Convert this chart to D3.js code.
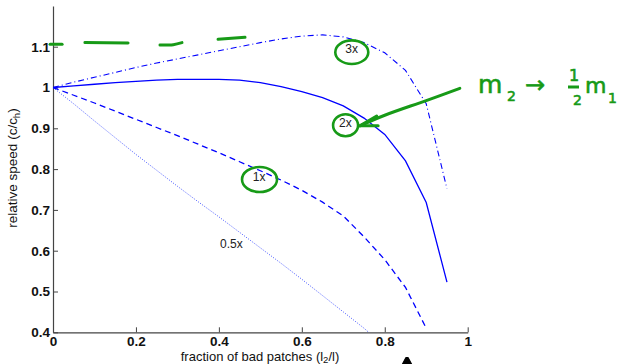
<!DOCTYPE html>
<html><head><meta charset="utf-8">
<script src="https://cdn.jsdelivr.net/npm/d3@7"></script>
<style>
html,body{margin:0;padding:0;background:#fff;}
svg{display:block;}
</style></head>
<body>
<svg id="chart" width="617" height="364"></svg>
<script>
// ---- data ----
const xs = [0,0.05,0.1,0.15,0.2,0.25,0.3,0.35,0.4,0.45,0.5,0.55,0.6,0.65,0.7,0.75,0.8,0.85,0.9,0.95];
const half  = [1,0.960,0.918,0.877,0.836,0.797,0.758,0.720,0.683,0.645,0.607,0.569,0.530,0.490,0.450,0.410,0.365];
const one   = [1,0.981,0.962,0.942,0.922,0.902,0.882,0.861,0.840,0.818,0.796,0.773,0.748,0.719,0.685,0.634,0.578,0.510,0.410];
const two   = [1,1.004,1.008,1.012,1.015,1.018,1.020,1.020,1.020,1.018,1.012,1.002,0.990,0.975,0.955,0.925,0.885,0.820,0.718,0.523];
const three = [1,1.013,1.025,1.037,1.049,1.060,1.070,1.080,1.090,1.100,1.110,1.119,1.126,1.129,1.124,1.110,1.085,1.042,0.960,0.752];
const xTicks = [0,0.2,0.4,0.6,0.8,1];
const xTickLabels = ["0","0.2","0.4","0.6","0.8","1"];
const yTicks = [0.4,0.5,0.6,0.7,0.8,0.9,1,1.1];
const yTickLabels = ["0.4","0.5","0.6","0.7","0.8","0.9","1","1.1"];
const curveLabels = [
  {t:"0.5x", x:0.43, y:0.607},
  {t:"1x",  x:0.497, y:0.770},
  {t:"2x",  x:0.705, y:0.903},
  {t:"3x",  x:0.720, y:1.084}
];
// hand-drawn annotations (data units)
const circles = [
  {x:0.7205, y:1.0865, rx:16.5, ry:11.8},
  {x:0.7055, y:0.9075, rx:12.5, ry:11},
  {x:0.498,  y:0.7745, rx:17.5, ry:12.5}
];
const greenDashes = [
  [[-0.007,1.106],[0.022,1.106]],
  [[0.077,1.110],[0.181,1.109]],
  [[0.258,1.104],[0.290,1.105],[0.311,1.110]],
  [[0.398,1.118],[0.463,1.123]]
];
const arrowShaft = [[0.981,0.998],[0.90,0.968],[0.80,0.932],[0.740,0.906]];
const arrowHead  = [[0.7806,0.930],[0.740,0.906],[0.784,0.906]];

// ---- layout ----
const svg = d3.select("#chart");
const x = d3.scaleLinear().domain([0,1]).range([53,467.7]);
const y = d3.scaleLinear().domain([0.4,1.2]).range([332.3,5.9]);
const font = "'Liberation Sans', Arial, Helvetica, sans-serif";
const blue = "#0000ff", green = "#179a17";

svg.append("defs").append("clipPath").attr("id","clip")
  .append("rect").attr("x",x(0)).attr("y",y(1.2)).attr("width",x(1)-x(0)+40).attr("height",y(0.4)-y(1.2));

// axes
const xAxis = d3.axisBottom(x).tickValues(xTicks).tickFormat((d,i)=>xTickLabels[i])
  .tickSizeInner(-5).tickSizeOuter(0).tickPadding(4);
const yAxis = d3.axisLeft(y).tickValues(yTicks).tickFormat((d,i)=>yTickLabels[i])
  .tickSizeInner(-5).tickSizeOuter(0).tickPadding(3);
const gx = svg.append("g").attr("transform",`translate(0,${y(0.4)})`).call(xAxis);
const gy = svg.append("g").attr("transform",`translate(${x(0)},0)`).call(yAxis);
[gx,gy].forEach(g=>{
  g.selectAll("path.domain").attr("stroke","#444").attr("stroke-width",1.2);
  g.selectAll(".tick line").attr("stroke","#444").attr("stroke-width",1);
  g.selectAll(".tick text").attr("fill","#111").attr("font-family",font)
    .attr("font-weight","bold").attr("font-size",13.5);
});

// axis labels
svg.append("text").attr("x",260).attr("y",360.5).attr("text-anchor","middle")
  .attr("font-family",font).attr("font-size",13).attr("fill","#111")
  .html('fraction of bad patches (l<tspan font-size="9.5" dy="2.5">2</tspan><tspan dy="-2.5">/l)</tspan>');
svg.append("text").attr("transform","translate(17,168) rotate(-90)").attr("text-anchor","middle")
  .attr("font-family",font).attr("font-size",13.5).attr("fill","#111")
  .html('relative speed (c/c<tspan font-size="9.5" dy="3">h</tspan><tspan dy="-3">)</tspan>');

// curves
const line = d3.line().x((d,i)=>x(xs[i])).y(d=>y(d));
const plot = svg.append("g").attr("clip-path","url(#clip)");
plot.append("path").attr("d",line(half)).attr("fill","none").attr("stroke","#4455ff")
  .attr("stroke-width",1).attr("stroke-dasharray","1 1.6");
plot.append("path").attr("d",line(one)).attr("fill","none").attr("stroke",blue)
  .attr("stroke-width",1.3).attr("stroke-dasharray","6 4");
plot.append("path").attr("d",line(two)).attr("fill","none").attr("stroke",blue)
  .attr("stroke-width",1.3);
plot.append("path").attr("d",line(three)).attr("fill","none").attr("stroke",blue)
  .attr("stroke-width",1.1).attr("stroke-dasharray","6 3 1 3");

// curve labels
svg.selectAll("text.cl").data(curveLabels).join("text").attr("class","cl")
  .attr("x",d=>x(d.x)).attr("y",d=>y(d.y)).attr("text-anchor","middle")
  .attr("font-family",font).attr("font-size",12).attr("fill","#222").text(d=>d.t);

// hand-drawn green annotations
const ann = svg.append("g").attr("fill","none").attr("stroke",green).attr("stroke-linecap","round")
  .attr("stroke-linejoin","round");
ann.selectAll("ellipse").data(circles).join("ellipse")
  .attr("cx",d=>x(d.x)).attr("cy",d=>y(d.y)).attr("rx",d=>d.rx).attr("ry",d=>d.ry)
  .attr("stroke-width",2.6);
const pl = d3.line().x(d=>x(d[0])).y(d=>y(d[1])).curve(d3.curveCatmullRom);
ann.selectAll("path.gd").data(greenDashes).join("path").attr("class","gd")
  .attr("d",pl).attr("stroke-width",3);
ann.append("path").attr("d",pl(arrowShaft)).attr("stroke-width",3);
ann.append("path").attr("d",d3.line().x(d=>x(d[0])).y(d=>y(d[1]))(arrowHead)).attr("stroke-width",3);

// handwritten note  m2 -> 1/2 m1
const hw = svg.append("g").attr("fill",green).attr("stroke",green).attr("stroke-width",0.6)
  .attr("font-family","'DejaVu Sans', sans-serif");
hw.append("text").attr("x",478).attr("y",93).attr("font-size",25).text("m");
hw.append("text").attr("x",507).attr("y",101).attr("font-size",14).text("2");
hw.append("text").attr("x",525).attr("y",93).attr("font-size",24).text("→");
hw.append("text").attr("x",569).attr("y",81).attr("font-size",16).text("1");
hw.append("line").attr("x1",568).attr("x2",579).attr("y1",87).attr("y2",87).attr("stroke-width",3);
hw.append("text").attr("x",573).attr("y",105).attr("font-size",14).text("2");
hw.append("text").attr("x",585).attr("y",93).attr("font-size",22).text("m");
hw.append("text").attr("x",608).attr("y",103).attr("font-size",14).text("1");

// cut-off black pen mark at bottom edge
svg.append("path").attr("d","M402.5,364 L406,357.5 L408,357.5 L411.5,364 Z")
  .attr("fill","#000").attr("stroke","#000").attr("stroke-width",1.2).attr("stroke-linejoin","round");
</script>
</body></html>
